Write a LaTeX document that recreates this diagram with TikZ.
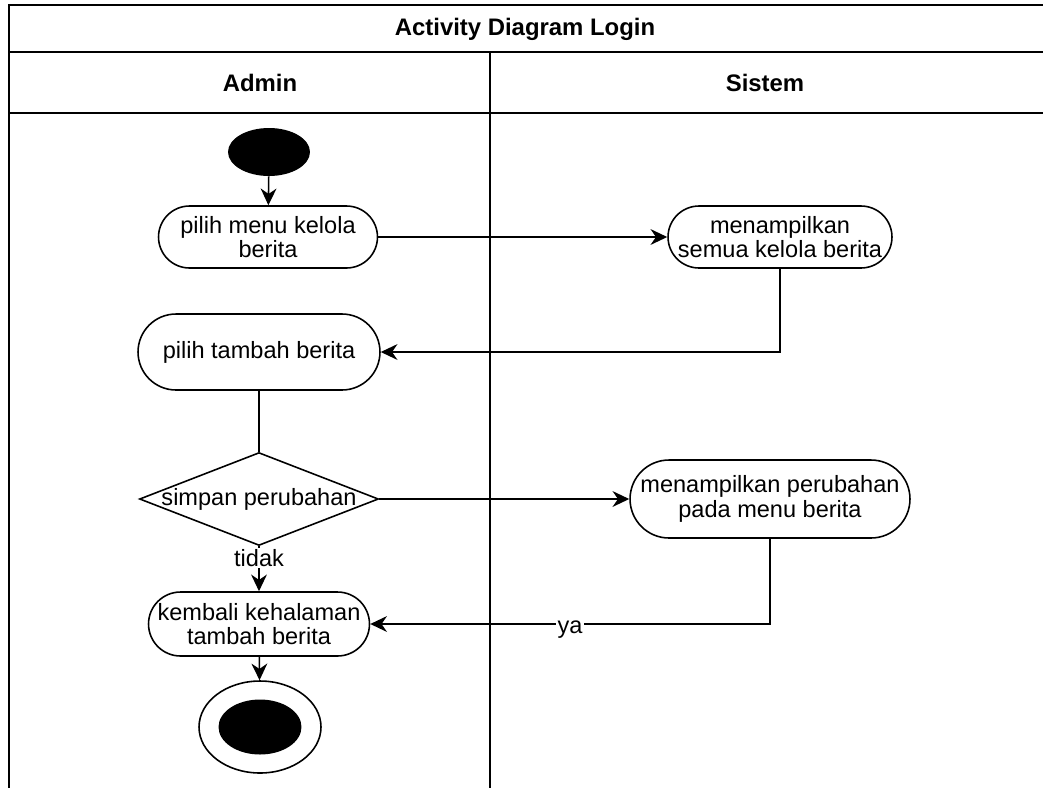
\documentclass[tikz,border=0pt]{standalone}
\usepackage{fontspec}
\setmainfont{Liberation Sans}
\usetikzlibrary{shapes.geometric,arrows.meta}

\begin{document}
\begin{tikzpicture}[
    x=0.02cm, y=-0.02cm,
    font=\fontsize{13.4pt}{14pt}\selectfont,
    lane/.style={line width=1.1pt},
    activity/.style 2 args={rectangle, draw, line width=0.9pt, rounded corners=#2/2,
        minimum width=#1, minimum height=#2, inner sep=0pt, align=center},
    decision/.style={diamond, draw, line width=0.9pt, inner sep=0pt,
        minimum width=4.78cm, minimum height=1.86cm},
    initial/.style={ellipse, fill=black, minimum width=1.64cm, minimum height=0.96cm, inner sep=0pt},
    final/.style={ellipse, draw, line width=0.9pt, minimum width=2.44cm, minimum height=1.84cm, inner sep=0pt},
    dot/.style={ellipse, fill=black, minimum width=1.66cm, minimum height=1.1cm, inner sep=0pt},
    arrow/.style={-{Stealth[length=9.5pt, width=9pt]}, line width=0.9pt},
    line/.style={line width=0.9pt},
    guard/.style={fill=white, inner sep=1pt}
]
\useasboundingbox (0,0) rectangle (1043,788);

% Swimlane frame
\draw[lane] (1043,5) -- (9,5) -- (9,788);
\draw[lane] (9,52) -- (1043,52);
\draw[lane] (9,113) -- (1043,113);
\draw[lane] (490,52) -- (490,788);
\node[font=\fontsize{13.6pt}{14pt}\selectfont\bfseries] (title) at (525,29) {Activity Diagram Login};
\node[font=\fontsize{13.6pt}{14pt}\selectfont\bfseries] (admin) at (260,83) {Admin};
\node[font=\fontsize{13.6pt}{14pt}\selectfont\bfseries] (sistem) at (765,83) {Sistem};

% Admin lane
\node[initial] (start) at (269,152) {};
\node[activity={4.38cm}{1.24cm}] (menu) at (268,237) {pilih menu kelola\\berita};
\node[activity={4.84cm}{1.52cm}] (tambah) at (259,352) {pilih tambah berita};
\node[decision] (simpan) at (259,499) {};
\node at (simpan) {simpan perubahan};
\node[activity={4.42cm}{1.28cm}] (kembali) at (259,624) {kembali kehalaman\\tambah berita};
\node[final] (stop) at (260,727) {};
\node[dot] (stopdot) at (stop) {};

% Sistem lane
\node[activity={4.48cm}{1.24cm}] (tampil) at (780,237) {menampilkan\\semua kelola berita};
\node[activity={5.6cm}{1.56cm}] (hasil) at (770,499) {menampilkan perubahan\\pada menu berita};

% Flows
\draw[arrow] (start) -- (menu);
\draw[arrow] (menu) -- (tampil);
\draw[arrow] (tampil.south) |- (tambah.east);
\draw[line] (tambah) -- (simpan);
\draw[arrow] (simpan) -- (hasil);
\draw[arrow] (simpan) -- node[guard, pos=0.26] {tidak} (kembali);
\draw[arrow] (hasil.south) |- node[guard, pos=0.75, yshift=-3pt] {ya} (kembali.east);
\draw[arrow] (kembali) -- (stop);

\end{tikzpicture}
\end{document}
